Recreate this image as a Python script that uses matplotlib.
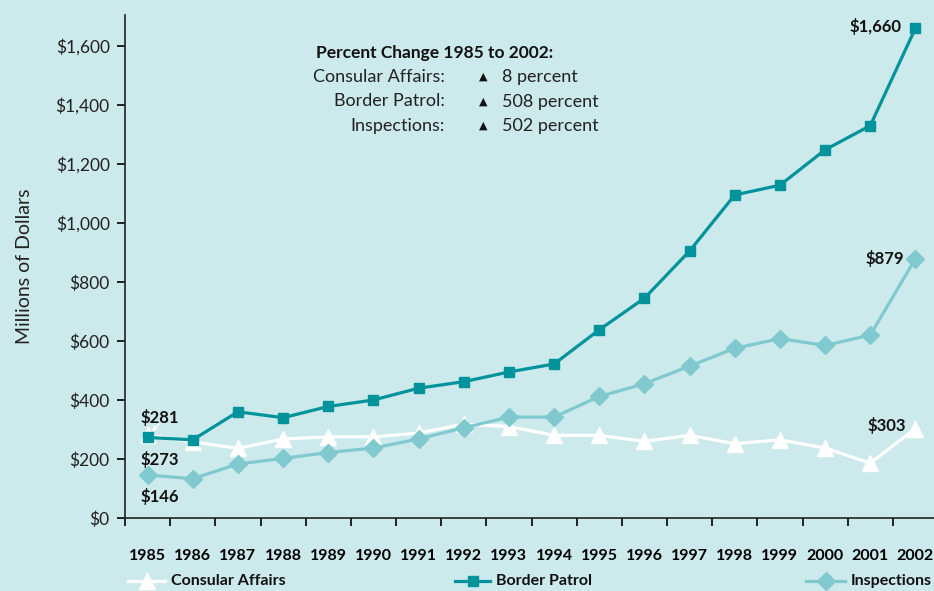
import matplotlib.pyplot as plt
from matplotlib.lines import Line2D

# --- DATOS ---
years = list(range(1985, 2003))
consular = [281, 258, 236, 268, 275, 275, 288, 318, 310, 280, 280, 260, 280, 252, 265, 237, 186, 303]
border = [273, 265, 360, 340, 378, 400, 440, 462, 495, 522, 638, 745, 905, 1095, 1128, 1248, 1330, 1660]
inspections = [146, 133, 183, 202, 222, 237, 268, 306, 342, 342, 412, 455, 515, 575, 608, 585, 620, 879]
y_ticks = [0, 200, 400, 600, 800, 1000, 1200, 1400, 1600]
pct_names = ["Consular Affairs:", "Border Patrol:", "Inspections:"]
pct_values = ["8 percent", "508 percent", "502 percent"]

bg = "#cce9ec"
c_border = "#00939b"
c_insp = "#7fc9cf"
c_cons = "white"
plt.rcParams['font.family'] = ['Lato', 'DejaVu Sans']

fig = plt.figure(figsize=(9.34, 5.91), dpi=100, facecolor=bg)
ax = fig.add_axes([125 / 934, 1 - 518 / 591, 813 / 934, 503 / 591], facecolor=bg)

x = [i + 0.5 for i in range(len(years))]
ax.plot(x, consular, color=c_cons, lw=2.3, marker='^', ms=11, zorder=3, clip_on=False)
ax.plot(x, inspections, color=c_insp, lw=2.3, marker='D', ms=9, zorder=4, clip_on=False)
ax.plot(x, border, color=c_border, lw=2.3, marker='s', ms=7.5, zorder=5, clip_on=False)

# --- EJES ---
ax.set_xlim(0, len(years))
ax.set_ylim(0, 1705)
for s in ['top', 'right']:
    ax.spines[s].set_visible(False)
for s in ['left', 'bottom']:
    ax.spines[s].set_color('#222222')
    ax.spines[s].set_linewidth(1.2)

ax.set_yticks(y_ticks)
ax.set_yticklabels([f"${v:,}" for v in y_ticks], fontsize=12.5, color='#222222')
ax.tick_params(axis='y', direction='out', length=6, width=1.2, pad=5)

ax.set_xticks(range(len(years) + 1))
ax.set_xticklabels([])
ax.set_xticks(x, minor=True)
ax.set_xticklabels([str(y) for y in years], minor=True, fontsize=11.5, fontweight='bold')
ax.tick_params(axis='x', which='major', direction='out', length=6, width=1.2)
ax.tick_params(axis='x', which='minor', length=0, pad=22)

ax.set_ylabel("Millions of Dollars", fontsize=14, color='#222222', labelpad=16)

# --- ETIQUETAS DE VALOR ---
lbl = dict(fontsize=12, fontweight='bold', color='#111111')
ax.text(x[0] - 0.15, consular[0] + 30, f"${consular[0]}", ha='left', va='bottom', **lbl)
ax.text(x[0] - 0.15, border[0] - 45, f"${border[0]}", ha='left', va='top', **lbl)
ax.text(x[0] - 0.15, inspections[0] - 45, f"${inspections[0]}", ha='left', va='top', **lbl)
ax.annotate("", xy=(x[0] + 0.05, consular[0] + 5), xytext=(x[0] + 0.3, consular[0] + 45),
            arrowprops=dict(arrowstyle='-|>', color='white', lw=1, mutation_scale=7))
ax.text(x[-1] - 0.3, border[-1] + 5, f"${border[-1]:,}", ha='right', va='center', **lbl)
ax.text(x[-1] - 0.25, inspections[-1], f"${inspections[-1]}", ha='right', va='center', **lbl)
ax.text(x[-1] - 0.2, consular[-1] + 12, f"${consular[-1]}", ha='right', va='center', **lbl)

# --- RECUADRO DE CAMBIO PORCENTUAL ---
fig.text(316 / 934, 1 - 53 / 591, "Percent Change 1985 to 2002:", fontsize=12.5,
         fontweight='bold', ha='left', va='center', color='#111111')
for i, (n, v) in enumerate(zip(pct_names, pct_values)):
    yy = 1 - (77 + 24.5 * i) / 591
    fig.text(445 / 934, yy, n, fontsize=13, ha='right', va='center', color='#222222')
    fig.text(483 / 934, yy, "\u25b2", fontsize=8, ha='center', va='center',
             family='DejaVu Sans', color='#111111')
    fig.text(502 / 934, yy, v, fontsize=13, ha='left', va='center', color='#222222')

# --- LEYENDA ---
leg_y = 1 - 581 / 591
entries = [(128, 165, '^', 11, c_cons, "Consular Affairs"),
           (455, 490, 's', 7.5, c_border, "Border Patrol"),
           (806, 845, 'D', 9, c_insp, "Inspections")]
for x0, x1, m, ms, c, name in entries:
    fig.add_artist(Line2D([x0 / 934, x1 / 934], [leg_y, leg_y], color=c, lw=2.3))
    fig.add_artist(Line2D([(x0 + x1) / 2 / 934], [leg_y], marker=m, ms=ms, color=c))
    fig.text((x1 + 6) / 934, leg_y, name, fontsize=11.5, fontweight='bold',
             ha='left', va='center', color='#111111')

fig.savefig("out.png", dpi=100, facecolor=bg)
